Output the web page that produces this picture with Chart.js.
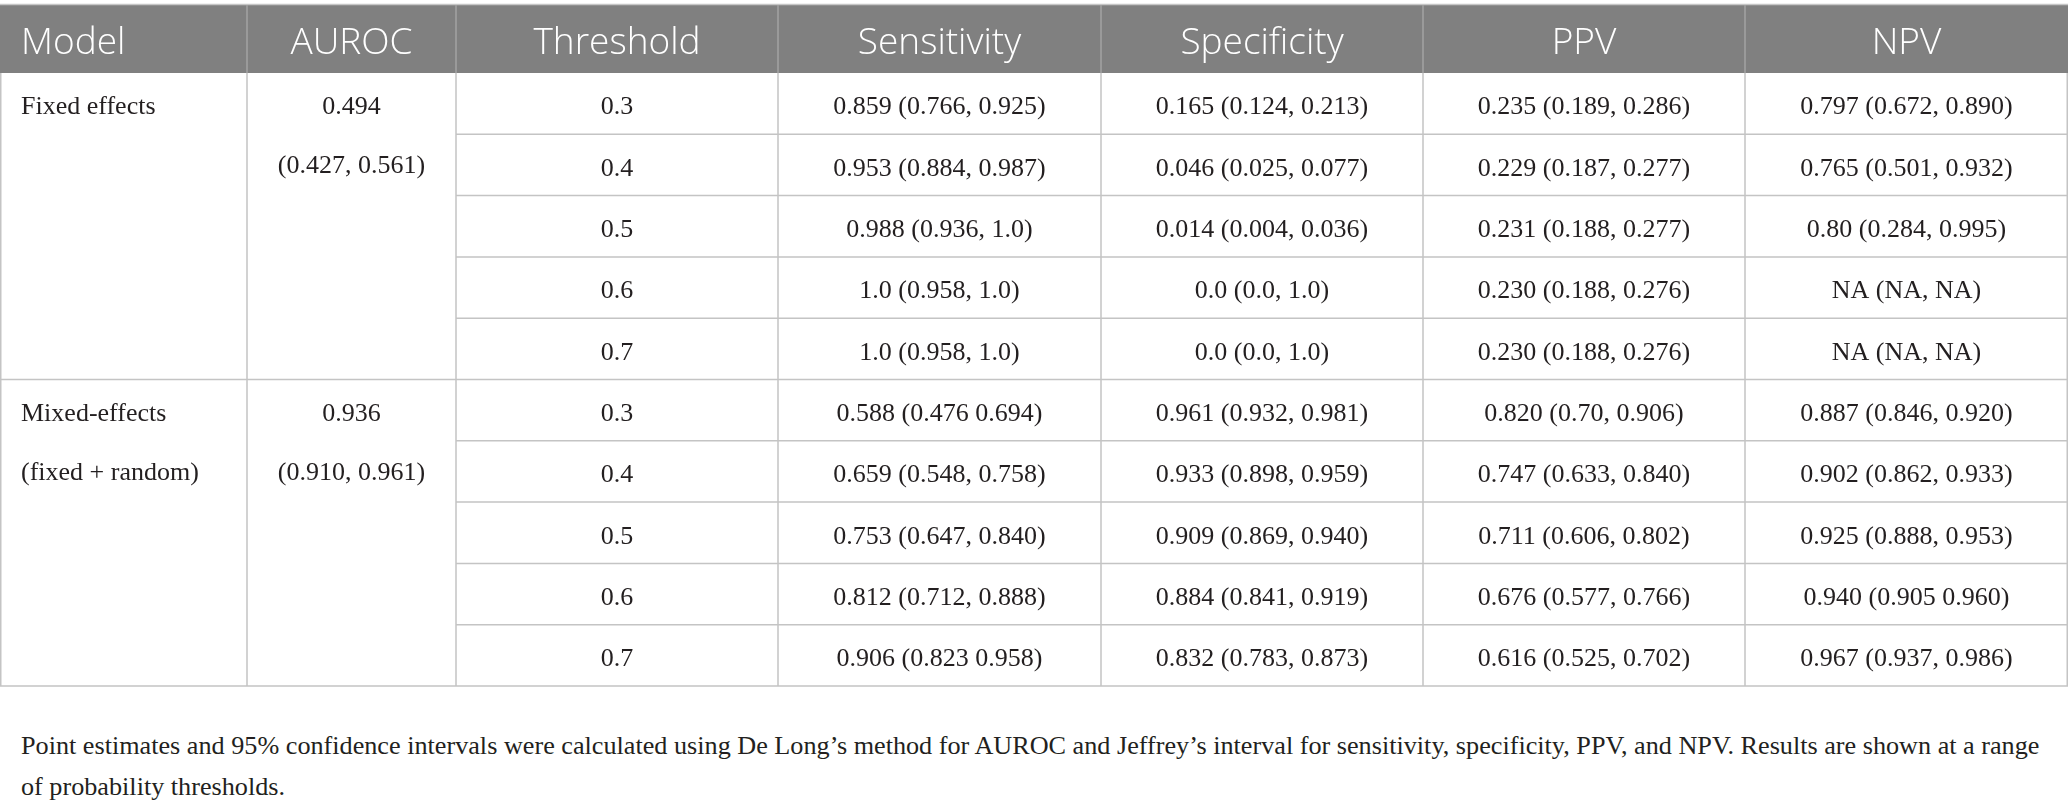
<!DOCTYPE html>
<html lang="en">
<head>
  <meta charset="UTF-8" />
  <title>Model performance table</title>
  <script src="https://cdn.jsdelivr.net/npm/chart.js"></script>
  <style>
    body {
      margin: 0;
      padding: 0;
      background: #fff;
      width: 2068px;
      height: 801px;
      overflow: hidden;
    }
    .table-wrap {
      position: absolute;
      left: 0;
      top: 0;
      width: 2068px;
      height: 690px;
    }
    .note {
      position: absolute;
      left: 21px;
      top: 725px;
      font-family: "Liberation Serif", serif;
      font-size: 26.2px;
      line-height: 41px;
      color: #231f20;
      white-space: nowrap;
    }
  </style>
</head>
<body>
  <div class="table-wrap"><canvas id="tbl"></canvas></div>
  <div class="note">
    Point estimates and 95% confidence intervals were calculated using De Long’s method for AUROC and Jeffrey’s interval for sensitivity, specificity, PPV, and NPV. Results are shown at a range<br>
    of probability thresholds.
  </div>

  <script>
    // table content
    const columns = ['Model', 'AUROC', 'Threshold', 'Sensitivity', 'Specificity', 'PPV', 'NPV'];
    const models = [['Fixed effects'], ['Mixed-effects', '(fixed + random)']];
    const auroc = ['0.494', '0.936'];
    const aurocCI = ['(0.427, 0.561)', '(0.910, 0.961)'];
    const thresholds = ['0.3', '0.4', '0.5', '0.6', '0.7'];
    const sensitivity = [
      ['0.859 (0.766, 0.925)', '0.953 (0.884, 0.987)', '0.988 (0.936, 1.0)', '1.0 (0.958, 1.0)', '1.0 (0.958, 1.0)'],
      ['0.588 (0.476 0.694)', '0.659 (0.548, 0.758)', '0.753 (0.647, 0.840)', '0.812 (0.712, 0.888)', '0.906 (0.823 0.958)']
    ];
    const specificity = [
      ['0.165 (0.124, 0.213)', '0.046 (0.025, 0.077)', '0.014 (0.004, 0.036)', '0.0 (0.0, 1.0)', '0.0 (0.0, 1.0)'],
      ['0.961 (0.932, 0.981)', '0.933 (0.898, 0.959)', '0.909 (0.869, 0.940)', '0.884 (0.841, 0.919)', '0.832 (0.783, 0.873)']
    ];
    const ppv = [
      ['0.235 (0.189, 0.286)', '0.229 (0.187, 0.277)', '0.231 (0.188, 0.277)', '0.230 (0.188, 0.276)', '0.230 (0.188, 0.276)'],
      ['0.820 (0.70, 0.906)', '0.747 (0.633, 0.840)', '0.711 (0.606, 0.802)', '0.676 (0.577, 0.766)', '0.616 (0.525, 0.702)']
    ];
    const npv = [
      ['0.797 (0.672, 0.890)', '0.765 (0.501, 0.932)', '0.80 (0.284, 0.995)', 'NA (NA, NA)', 'NA (NA, NA)'],
      ['0.887 (0.846, 0.920)', '0.902 (0.862, 0.933)', '0.925 (0.888, 0.953)', '0.940 (0.905 0.960)', '0.967 (0.937, 0.986)']
    ];

    // layout (scale units)
    const colWidths = [247, 209, 322, 323, 322, 322, 323];
    const headerH = 68;
    const rowH = 61.3;
    const lineGap = 59;

    const colEdges = [0];
    colWidths.forEach(w => colEdges.push(colEdges[colEdges.length - 1] + w));
    const nRows = models.length * thresholds.length;

    const tablePlugin = {
      id: 'tablePlugin',
      afterDraw(chart) {
        const ctx = chart.ctx;
        const xs = chart.scales.x, ys = chart.scales.y;
        const X = v => xs.getPixelForValue(v);
        const Y = v => ys.getPixelForValue(v);
        const rowTop = r => headerH + r * rowH;
        const left = X(0), right = X(colEdges[colEdges.length - 1]);

        ctx.save();
        // header band
        ctx.fillStyle = '#808080';
        ctx.fillRect(left, Y(0), right - left, Y(headerH) - Y(0));
        ctx.strokeStyle = '#c6c6c6';
        ctx.lineWidth = 1.5;
        ctx.beginPath();
        ctx.moveTo(left, Y(0) - 0.5);
        ctx.lineTo(right, Y(0) - 0.5);
        ctx.stroke();
        ctx.strokeStyle = '#a3a3a3';
        ctx.beginPath();
        for (let c = 1; c < colEdges.length - 1; c++) {
          ctx.moveTo(X(colEdges[c]), Y(0));
          ctx.lineTo(X(colEdges[c]), Y(headerH));
        }
        ctx.stroke();

        ctx.fillStyle = '#ffffff';
        ctx.font = '300 37px "Open Sans"';
        ctx.textBaseline = 'middle';
        const hy = Y(headerH / 2) + 4;
        columns.forEach((name, c) => {
          if (c === 0) {
            ctx.textAlign = 'left';
            ctx.fillText(name, X(colEdges[c]) + 21, hy);
          } else {
            ctx.textAlign = 'center';
            ctx.fillText(name, X((colEdges[c] + colEdges[c + 1]) / 2), hy);
          }
        });

        // body grid
        ctx.strokeStyle = '#c4c4c4';
        ctx.lineWidth = 1.5;
        ctx.beginPath();
        const bodyTop = Y(headerH), bodyBot = Y(rowTop(nRows));
        ctx.moveTo(left + 0.75, bodyTop);
        ctx.lineTo(left + 0.75, bodyBot);
        ctx.moveTo(right - 0.75, bodyTop);
        ctx.lineTo(right - 0.75, bodyBot);
        for (let c = 1; c < colEdges.length - 1; c++) {
          ctx.moveTo(X(colEdges[c]), bodyTop);
          ctx.lineTo(X(colEdges[c]), bodyBot);
        }
        for (let r = 1; r <= nRows; r++) {
          const groupEnd = r % thresholds.length === 0;
          const x0 = groupEnd ? left : X(colEdges[2]);
          ctx.moveTo(x0, Y(rowTop(r)));
          ctx.lineTo(right, Y(rowTop(r)));
        }
        ctx.stroke();

        // body text
        ctx.fillStyle = '#231f20';
        ctx.font = '26px "Liberation Serif"';
        const center = c => X((colEdges[c] + colEdges[c + 1]) / 2);
        const metrics = [sensitivity, specificity, ppv, npv];
        models.forEach((lines, g) => {
          const gTop = rowTop(g * thresholds.length);
          const l1 = Y(gTop + rowH / 2) + 4;
          ctx.textAlign = 'left';
          lines.forEach((t, i) => ctx.fillText(t, X(colEdges[0]) + 21, l1 + i * lineGap));
          ctx.textAlign = 'center';
          ctx.fillText(auroc[g], center(1), l1);
          ctx.fillText(aurocCI[g], center(1), l1 + lineGap);
          thresholds.forEach((t, i) => {
            const y = Y(gTop + (i + 0.5) * rowH) + 4;
            ctx.fillText(t, center(2), y);
            metrics.forEach((m, k) => ctx.fillText(m[g][i], center(3 + k), y));
          });
        });
        ctx.restore();
      }
    };

    new Chart(document.getElementById('tbl'), {
      type: 'scatter',
      data: { datasets: [] },
      options: {
        responsive: true,
        maintainAspectRatio: false,
        animation: false,
        layout: { padding: { top: 5, bottom: 4, left: 0, right: 0 } },
        plugins: { legend: { display: false }, tooltip: { enabled: false } },
        scales: {
          x: { type: 'linear', display: false, min: 0, max: colEdges[colEdges.length - 1] },
          y: { type: 'linear', display: false, reverse: true, min: 0, max: headerH + nRows * rowH }
        }
      },
      plugins: [tablePlugin]
    });
  </script>
</body>
</html>
